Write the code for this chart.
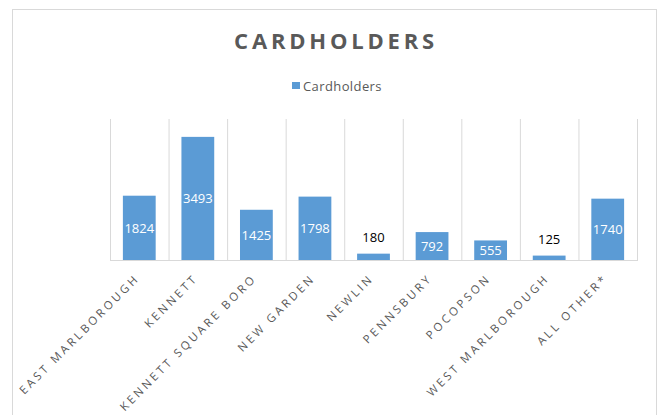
<!DOCTYPE html>
<html>
<head>
<meta charset="utf-8">
<script src="https://cdn.jsdelivr.net/npm/d3@7"></script>
<style>
  body { margin: 0; background: #fff; }
  svg { display: block; font-family: 'Open Sans', sans-serif; }
</style>
</head>
<body>
<div id="chart"></div>
<script>
// data
const places = [
  'EAST MARLBOROUGH', 'KENNETT', 'KENNETT SQUARE BORO', 'NEW GARDEN', 'NEWLIN',
  'PENNSBURY', 'POCOPSON', 'WEST MARLBOROUGH', 'ALL OTHER*'
]
const cardholders = [1824, 3493, 1425, 1798, 180, 792, 555, 125, 1740]
const seriesName = 'Cardholders'
const chartTitle = 'CARDHOLDERS'

const width = 659
const height = 415
const margin = { top: 119, left: 110, right: 22, bottom: 155 }

const svg = d3
  .select('#chart')
  .append('svg')
  .attr('width', width)
  .attr('height', height)

// chart frame
svg
  .append('rect')
  .attr('x', 12.5)
  .attr('y', 9.5)
  .attr('width', 644)
  .attr('height', 420)
  .attr('fill', '#fff')
  .attr('stroke', '#d9d9d9')

// scales
const bands = d3
  .scaleBand()
  .domain(places)
  .range([margin.left, width - margin.right])
  .padding(0)

const x = d3
  .scaleBand()
  .domain(places)
  .range([margin.left, width - margin.right])
  .paddingInner(0.44)
  .paddingOuter(0.22)

const y = d3
  .scaleLinear()
  .domain([0, 4000])
  .range([height - margin.bottom, margin.top])

// vertical gridlines between categories
const edges = places.map(d => bands(d)).concat([bands.range()[1]])
svg
  .selectAll('.grid')
  .data(edges)
  .enter()
  .append('line')
  .attr('class', 'grid')
  .attr('x1', d => d + 0.5)
  .attr('x2', d => d + 0.5)
  .attr('y1', y(4000))
  .attr('y2', y(0))
  .attr('stroke', '#d9d9d9')

// baseline
svg
  .append('line')
  .attr('x1', bands.range()[0])
  .attr('x2', bands.range()[1] + 1)
  .attr('y1', y(0) + 0.5)
  .attr('y2', y(0) + 0.5)
  .attr('stroke', '#d9d9d9')

// bars
const rows = places.map((p, i) => ({ place: p, value: cardholders[i] }))

svg
  .selectAll('.bar')
  .data(rows)
  .enter()
  .append('rect')
  .attr('class', 'bar')
  .attr('x', d => x(d.place))
  .attr('width', x.bandwidth())
  .attr('y', d => y(d.value))
  .attr('height', d => y(0) - y(d.value))
  .attr('fill', '#5b9bd5')

// value labels: inside for tall bars, above for short ones
svg
  .selectAll('.val')
  .data(rows)
  .enter()
  .append('text')
  .attr('class', 'val')
  .attr('x', d => x(d.place) + x.bandwidth() / 2)
  .attr('y', d => {
    const h = y(0) - y(d.value)
    return h > 16 ? y(d.value) + h / 2 : y(d.value) - 16
  })
  .attr('dy', '0.36em')
  .attr('text-anchor', 'middle')
  .attr('font-size', 13)
  .attr('fill', d => (y(0) - y(d.value) > 16 ? '#fff' : '#000'))
  .text(d => d.value)

// category labels
svg
  .selectAll('.cat')
  .data(rows)
  .enter()
  .append('text')
  .attr('class', 'cat')
  .attr('transform', d => {
    const cx = x(d.place) + x.bandwidth() / 2 + 1
    return `translate(${cx},${y(0) + 19}) rotate(-45)`
  })
  .attr('text-anchor', 'end')
  .attr('font-size', 11.5)
  .attr('letter-spacing', 2.9)
  .attr('fill', '#595959')
  .text(d => d.place)

// title
svg
  .append('text')
  .attr('x', 336)
  .attr('y', 49)
  .attr('text-anchor', 'middle')
  .attr('font-size', 22)
  .attr('font-weight', 'bold')
  .attr('letter-spacing', 3.8)
  .attr('fill', '#595959')
  .text(chartTitle)

// legend
const legend = svg.append('g').attr('transform', 'translate(292,82)')
legend
  .append('rect')
  .attr('width', 8)
  .attr('height', 7)
  .attr('fill', '#5b9bd5')
legend
  .append('text')
  .attr('x', 11)
  .attr('y', 8.5)
  .attr('font-size', 13)
  .attr('letter-spacing', 0.4)
  .attr('fill', '#595959')
  .text(seriesName)
</script>
</body>
</html>
